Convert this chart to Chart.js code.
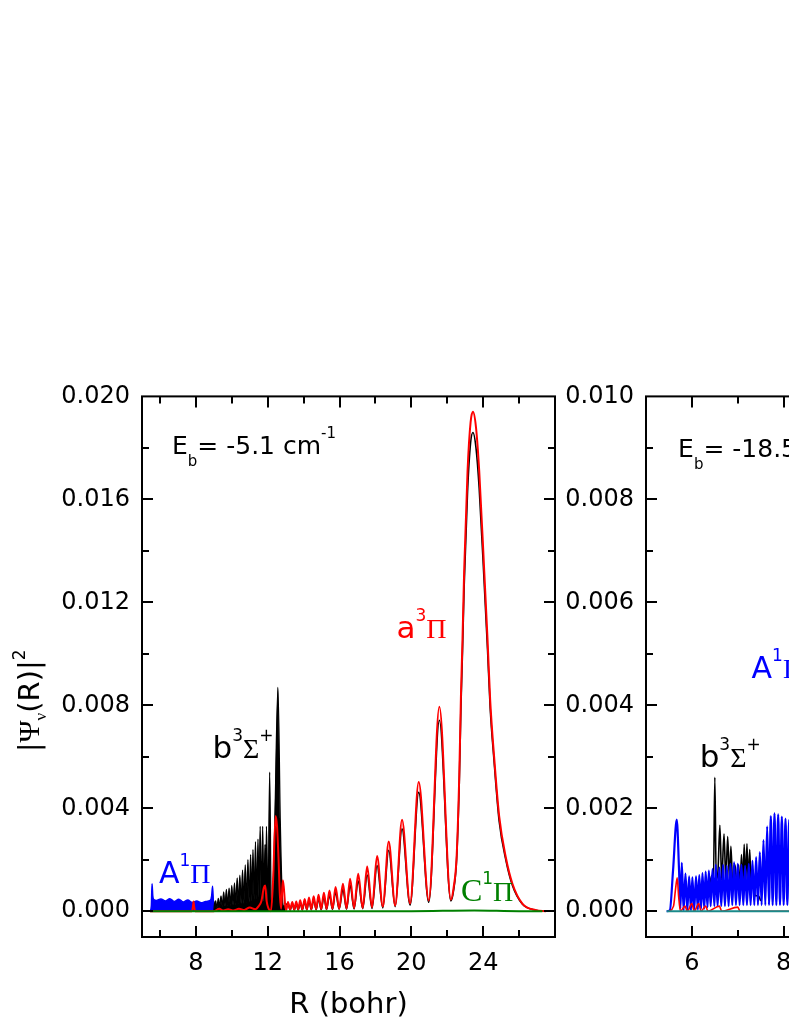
<!DOCTYPE html>
<html>
<head>
<meta charset="utf-8">
<script src="https://cdn.jsdelivr.net/npm/chart.js"></script>
<style>
  html, body { margin: 0; padding: 0; background: #fff; }
  body { width: 789px; height: 1021px; overflow: hidden; position: relative; }
  canvas { position: absolute; }
  #leftChart { left: 0; top: 370px; }
  #rightChart { left: 556px; top: 370px; }
</style>
</head>
<body>
<canvas id="leftChart" width="600" height="651"></canvas>
<canvas id="rightChart" width="640" height="651"></canvas>
<script>
const SANS = "'DejaVu Sans'";
const SERIF = "'Liberation Serif'";

// ---- left panel (Eb = -5.1 cm-1) ----
const xLabelsLeft = [8, 12, 16, 20, 24];
const yLabelsLeft = ["0.000", "0.004", "0.008", "0.012", "0.016", "0.020"];

const blueLeftR = [5.45, 5.52, 5.56, 5.60, 5.66, 5.80, 6.05, 6.30, 6.55, 6.80, 7.05, 7.30, 7.55, 7.80, 8.05, 8.30, 8.55, 8.80, 8.88, 8.93, 8.98, 9.03];
const blueLeftV = [0, 0.0002, 0.00107, 0.0006, 0.00045, 0.00042, 0.00048, 0.0004, 0.00049, 0.00038, 0.00047, 0.00036, 0.00044, 0.00034, 0.0004, 0.00033, 0.00038, 0.00042, 0.0006, 0.00097, 0.0003, 0];

const blackDenseR = [9.00, 9.04, 9.10, 9.17, 9.25, 9.32, 9.40, 9.47, 9.55, 9.62, 9.70, 9.77, 9.85, 9.92, 10.00, 10.07, 10.15, 10.22, 10.30, 10.37, 10.45, 10.52, 10.60, 10.67, 10.75, 10.82, 10.90, 10.97, 11.05, 11.12, 11.18, 11.25, 11.32, 11.39, 11.46, 11.52, 11.58, 11.65, 11.72, 11.79, 11.85, 11.89, 11.93, 12.02, 12.11, 12.20, 12.30, 12.40, 12.57, 12.70, 12.80, 12.90, 13.00];
const blackDenseV = [0, 0.0003, 0.0004, 0.00012, 0.0005, 0.00015, 0.0006, 0.00018, 0.00075, 0.0002, 0.00085, 0.0002, 0.0009, 0.00022, 0.001, 0.00025, 0.0011, 0.00025, 0.0013, 0.00028, 0.0014, 0.0003, 0.0016, 0.0003, 0.0018, 0.00032, 0.002, 0.00035, 0.0022, 0.00035, 0.0024, 0.0004, 0.0027, 0.0004, 0.0028, 0.0004, 0.0033, 0.0004, 0.0033, 0.0004, 0.0026, 0.0005, 0.0033, 0.0003, 0.0054, 0.0002, 0.0009, 0.0035, 0.0087, 0.0035, 0.0008, 0.0002, 0.00025];

const blackTailR = [13.00, 13.13, 13.25, 13.37, 13.48, 13.59, 13.70, 13.81, 13.93, 14.06, 14.18, 14.30, 14.43, 14.56, 14.70, 14.83, 14.98, 15.13, 15.28, 15.44, 15.61, 15.78, 15.98, 16.19, 16.39, 16.59, 16.81, 17.04, 17.29, 17.54, 17.81, 18.09, 18.41, 18.74, 19.10, 19.48, 19.93, 20.41, 20.97, 21.56, 22.20, 22.35, 22.52, 22.67, 22.76, 22.85, 22.94, 23.13, 23.30, 23.43, 23.60, 23.78, 24.06, 24.24, 24.39, 24.61, 24.89, 25.26, 25.63, 26.18, 26.93, 27.50];
const blackTailV = [0.00025, 0.0003, 0.00005, 0.0003, 0.00005, 0.0003, 0.00005, 0.00034, 0.00005, 0.00038, 0.00005, 0.00042, 0.00006, 0.00046, 0.00006, 0.0005, 0.00006, 0.00057, 0.00007, 0.00064, 0.00007, 0.00075, 0.00008, 0.00086, 0.00008, 0.00102, 0.00009, 0.00118, 0.0001, 0.00141, 0.00011, 0.00178, 0.00013, 0.00237, 0.00018, 0.0032, 0.00024, 0.00462, 0.00035, 0.00742, 0.0004, 0.0008, 0.002, 0.005, 0.0079, 0.0101, 0.0126, 0.0163, 0.0182, 0.0186, 0.018, 0.0164, 0.0127, 0.0102, 0.0079, 0.0058, 0.0035, 0.002, 0.001, 0.00028, 0.00004, 0];

const redLeftR = [5.45, 7.78, 7.84, 7.87, 7.90, 7.96, 9.00, 9.30, 9.50, 9.80, 10.10, 10.40, 10.70, 11.00, 11.30, 11.50, 11.65, 11.78, 11.86, 11.94, 12.05, 12.18, 12.30, 12.44, 12.52, 12.60, 12.68, 12.75, 12.84, 12.90, 12.98, 13.04, 13.13, 13.25, 13.37, 13.48, 13.59, 13.70, 13.81, 13.93, 14.06, 14.18, 14.30, 14.43, 14.56, 14.70, 14.83, 14.98, 15.13, 15.28, 15.44, 15.61, 15.78, 15.98, 16.19, 16.39, 16.59, 16.81, 17.04, 17.29, 17.54, 17.81, 18.09, 18.41, 18.74, 19.10, 19.48, 19.93, 20.41, 20.97, 21.56, 22.20, 22.35, 22.52, 22.67, 22.76, 22.85, 22.94, 23.13, 23.30, 23.43, 23.60, 23.78, 24.06, 24.24, 24.39, 24.61, 24.89, 25.26, 25.63, 26.18, 26.93, 27.50];
const redLeftV = [0, 0, 0.0002, 0.00038, 0.0002, 0, 0, 0.0001, 0.00003, 0.00008, 0.00003, 0.0001, 0.00005, 0.00015, 0.00008, 0.0002, 0.0004, 0.0009, 0.001, 0.0004, 0.0001, 0, 0.0012, 0.0037, 0.0033, 0.0021, 0.0006, 0.0001, 0.0012, 0.0009, 0.0002, 0.00005, 0.00036, 0.00007, 0.00036, 0.00007, 0.00038, 0.00007, 0.00043, 0.00007, 0.00048, 0.00008, 0.00053, 0.00008, 0.00058, 0.00008, 0.00064, 0.00009, 0.00072, 0.00009, 0.00081, 0.0001, 0.00094, 0.0001, 0.00107, 0.00011, 0.00126, 0.00012, 0.00146, 0.00013, 0.00174, 0.00015, 0.00215, 0.00018, 0.00271, 0.00022, 0.00355, 0.0003, 0.00502, 0.00042, 0.00794, 0.00045, 0.0009, 0.0021, 0.0053, 0.0083, 0.0106, 0.0132, 0.0171, 0.019, 0.0194, 0.0188, 0.0171, 0.0132, 0.0106, 0.0082, 0.006, 0.0037, 0.0021, 0.00107, 0.0003, 0.00004, 0];

const greenLeftR = [5.45, 20.0, 23.5, 26.0, 27.3];
const greenLeftV = [0, 0, 0.00003, 0, 0];

// ---- right panel (Eb = -18.5 cm-1) ----
const xLabelsRight = [6, 8, 10, 12];
const yLabelsRight = ["0.000", "0.002", "0.004", "0.006", "0.008", "0.010"];

const blueRightR = [5.45, 5.52, 5.59, 5.67, 5.72, 5.75, 5.78, 5.82, 5.86, 5.90, 5.94, 5.98, 6.01, 6.05, 6.09, 6.13, 6.16, 6.20, 6.23, 6.27, 6.30, 6.34, 6.37, 6.41, 6.45, 6.49, 6.52, 6.56, 6.60, 6.64, 6.68, 6.72, 6.76, 6.80, 6.84, 6.88, 6.92, 6.96, 7.00, 7.04, 7.08, 7.12, 7.16, 7.20, 7.24, 7.28, 7.32, 7.36, 7.40, 7.44, 7.48, 7.52, 7.56, 7.60, 7.64, 7.68, 7.72, 7.76, 7.80, 7.84, 7.88, 7.92, 7.96, 8.00, 8.04, 8.08, 8.12, 8.16, 8.20];
const blueRightV = [0, 0.00002, 0.0008, 0.00178, 0.0008, 0.00005, 0.00094, 0.00002, 0.00073, 0.00002, 0.00068, 0.00002, 0.00066, 0.00003, 0.00068, 0.00003, 0.0007, 0.00005, 0.00074, 0.00005, 0.00077, 0.00008, 0.00079, 0.0001, 0.00082, 0.0001, 0.0009, 0.0001, 0.00085, 0.0001, 0.0009, 0.0001, 0.00088, 0.0001, 0.00092, 0.00012, 0.00095, 0.00012, 0.00092, 0.00012, 0.0009, 0.00012, 0.00088, 0.00012, 0.00092, 0.00012, 0.00098, 0.00012, 0.00105, 0.00012, 0.00115, 0.00012, 0.00138, 0.00012, 0.00165, 0.00012, 0.00185, 0.00012, 0.0019, 0.00012, 0.00188, 0.00012, 0.00184, 0.00012, 0.0018, 0.00012, 0.00178, 0.00012, 0.00175];

const blackRightR = [6.30, 6.38, 6.44, 6.47, 6.50, 6.53, 6.57, 6.61, 6.65, 6.70, 6.74, 6.78, 6.82, 6.85, 6.89, 6.94, 6.98, 7.02, 7.05, 7.08, 7.11, 7.14, 7.17, 7.20, 7.23, 7.26, 7.29, 7.33, 7.38, 7.45, 7.50];
const blackRightV = [0.0003, 0.0005, 0.0007, 0.0006, 0.0026, 0.0006, 0.0008, 0.00167, 0.0006, 0.0015, 0.0006, 0.00145, 0.0006, 0.00126, 0.0005, 0.0009, 0.0005, 0.0009, 0.0004, 0.0011, 0.0005, 0.0013, 0.0005, 0.00131, 0.0005, 0.0012, 0.0005, 0.0008, 0.0003, 0.0003, 0.0002];

const redRightR = [5.50, 5.60, 5.64, 5.68, 5.71, 5.75, 5.85, 5.90, 6.00, 6.05, 6.15, 6.20, 6.30, 6.35, 6.60, 6.65, 7.00, 7.05, 8.20];
const redRightV = [0, 0.0001, 0.0004, 0.00065, 0.0003, 0, 0.0001, 0, 0.00015, 0, 0.00015, 0, 0.0001, 0, 0.0001, 0, 0.00008, 0, 0];

const tealRightR = [5.45, 14];
const tealRightV = [0, 0];

function pts(rs, vs) {
  return rs.map((r, i) => ({ x: r, y: vs[i] }));
}

function curve(rs, vs, color, width, fill) {
  return {
    data: pts(rs, vs),
    borderColor: color,
    backgroundColor: color,
    borderWidth: width,
    pointRadius: 0,
    fill: fill ? "origin" : false,
    cubicInterpolationMode: "monotone",
  };
}

// draws text made of pieces (sub/superscripts, greek in serif)
function drawRich(ctx, x, y, parts, color) {
  ctx.fillStyle = color;
  ctx.textAlign = "left";
  ctx.textBaseline = "alphabetic";
  let cx = x;
  parts.forEach(([text, font, dy]) => {
    ctx.font = font;
    ctx.fillText(text, cx, y + dy);
    cx += ctx.measureText(text).width;
  });
}

function makeFrame(labels, yTitle) {
  return {
    id: "frame",
    afterDatasetsDraw(chart) {
      const { ctx, chartArea: a, scales } = chart;
      const x = scales.x, y = scales.y;
      ctx.save();
      ctx.strokeStyle = "#000";
      ctx.lineWidth = 2;
      ctx.strokeRect(a.left, a.top, a.right - a.left, a.bottom - a.top);
      ctx.beginPath();
      x.ticks.forEach((t) => {
        if (t.value <= x.min + 1e-9 || t.value >= x.max - 1e-9) return;
        const len = t.label !== "" ? 11 : 7;
        const px = Math.round(x.getPixelForValue(t.value));
        ctx.moveTo(px, a.bottom);
        ctx.lineTo(px, a.bottom - len);
        ctx.moveTo(px, a.top);
        ctx.lineTo(px, a.top + len);
      });
      y.ticks.forEach((t) => {
        if (t.value <= y.min + 1e-9 || t.value >= y.max - 1e-9) return;
        const len = t.label !== "" ? 11 : 7;
        const py = Math.round(y.getPixelForValue(t.value));
        ctx.moveTo(a.left, py);
        ctx.lineTo(a.left + len, py);
        ctx.moveTo(a.right, py);
        ctx.lineTo(a.right - len, py);
      });
      ctx.stroke();
      ctx.restore();
    },
    afterDraw(chart) {
      const { ctx, scales } = chart;
      ctx.save();
      labels.forEach((l) => {
        drawRich(ctx, scales.x.getPixelForValue(l.r), scales.y.getPixelForValue(l.v), l.parts, l.color);
      });
      if (yTitle) {
        ctx.translate(38.5, 382);
        ctx.rotate(-Math.PI / 2);
        drawRich(ctx, 0, 0, [
          ["|", "28px " + SANS, 0],
          ["\u03A8", "30px " + SERIF, 0],
          ["\u03BD", "17px " + SERIF, 7],
          ["(R)|", "29px " + SANS, 0],
          ["2", "17px " + SANS, -14],
        ], "#000");
      }
      ctx.restore();
    },
  };
}

function ebParts(value) {
  return [
    ["E", "25px " + SANS, 0],
    ["b", "15px " + SANS, 12],
    ["= " + value + " cm", "25px " + SANS, 0],
    ["-1", "15px " + SANS, -16],
  ];
}

function state(letter, mult, greek, plus, letterFont) {
  const parts = [
    [letter, letterFont, 0],
    [mult, "17px " + SANS, -17],
    [greek, "28px " + SERIF, 0],
  ];
  if (plus) parts.push(["+", "17px " + SANS, -17]);
  return parts;
}

const leftLabels = [
  { r: 6.67, v: 0.01776, color: "#000", parts: ebParts("-5.1") },
  { r: 19.17, v: 0.0106, color: "#ff0000", parts: state("a", "3", "\u03A0", false, "31px " + SANS) },
  { r: 8.93, v: 0.00596, color: "#000", parts: state("b", "3", "\u03A3", true, "31px " + SANS) },
  { r: 5.94, v: 0.00108, color: "#0000ff", parts: state("A", "1", "\u03A0", false, "30px " + SANS) },
  { r: 22.76, v: 0.0004, color: "#008000", parts: state("C", "1", "\u03A0", false, "32px " + SERIF) },
];

const rightLabels = [
  { r: 5.70, v: 0.00883, color: "#000", parts: ebParts("-18.5") },
  { r: 7.30, v: 0.00453, color: "#0000ff", parts: state("A", "1", "\u03A0", false, "30px " + SANS) },
  { r: 6.17, v: 0.00281, color: "#000", parts: state("b", "3", "\u03A3", true, "31px " + SANS) },
];

function axisOptions(min, max, step, labelFn, fitFn, title) {
  return {
    type: "linear",
    min: min,
    max: max,
    afterFit: fitFn,
    grid: { display: false, drawTicks: false },
    border: { display: false },
    title: title
      ? { display: true, text: title, color: "#000", font: { family: "DejaVu Sans", size: 29, lineHeight: 1.1 }, padding: { top: 0, bottom: 0 } }
      : { display: false },
    ticks: {
      stepSize: step,
      includeBounds: false,
      autoSkip: false,
      maxRotation: 0,
      minRotation: 0,
      padding: 12,
      color: "#000",
      font: { family: "DejaVu Sans", size: 24 },
      callback: labelFn,
    },
  };
}

function makeChart(id, datasets, opts) {
  return new Chart(document.getElementById(id).getContext("2d"), {
    type: "line",
    data: { datasets: datasets },
    options: {
      responsive: false,
      animation: false,
      events: [],
      layout: { padding: { top: 24, right: opts.rightPad, left: 0, bottom: 0 } },
      plugins: { legend: { display: false }, tooltip: { enabled: false } },
      scales: {
        x: axisOptions(opts.xMin, opts.xMax, opts.xStep,
          (v) => (opts.xLabels.includes(v) ? String(v) : ""),
          (s) => { s.height = 84; }, "R (bohr)"),
        y: axisOptions(opts.yMin, opts.yMax, opts.yStep,
          (v) => { const s = (Math.abs(v) < 1e-12 ? 0 : v).toFixed(3); return opts.yLabels.includes(s) ? s : ""; },
          (s) => { s.width = opts.yWidth; }, null),
      },
    },
    plugins: [makeFrame(opts.labels, opts.yTitle)],
  });
}

document.fonts.ready.then(() => {
  // first dataset is drawn on top
  makeChart("leftChart", [
    curve(greenLeftR, greenLeftV, "#008000", 2, false),
    curve(redLeftR, redLeftV, "#ff0000", 2, false),
    curve(blackTailR, blackTailV, "#000000", 1.6, false),
    curve(blackDenseR, blackDenseV, "#000000", 1.3, true),
    curve(blueLeftR, blueLeftV, "#0000ff", 1.5, true),
  ], {
    xMin: 5, xMax: 28, xStep: 2, xLabels: xLabelsLeft,
    yMin: -0.001, yMax: 0.020, yStep: 0.002, yLabels: yLabelsLeft,
    yWidth: 142, rightPad: 45, labels: leftLabels, yTitle: true,
  });

  makeChart("rightChart", [
    curve(tealRightR, tealRightV, "#1a8a8a", 2, false),
    curve(redRightR, redRightV, "#ff0000", 1.6, false),
    curve(blueRightR, blueRightV, "#0000ff", 2.2, false),
    curve(blackRightR, blackRightV, "#000000", 1.6, false),
  ], {
    xMin: 5, xMax: 14, xStep: 1, xLabels: xLabelsRight,
    yMin: -0.0005, yMax: 0.010, yStep: 0.001, yLabels: yLabelsRight,
    yWidth: 90, rightPad: 137, labels: rightLabels, yTitle: false,
  });
});
</script>
</body>
</html>
